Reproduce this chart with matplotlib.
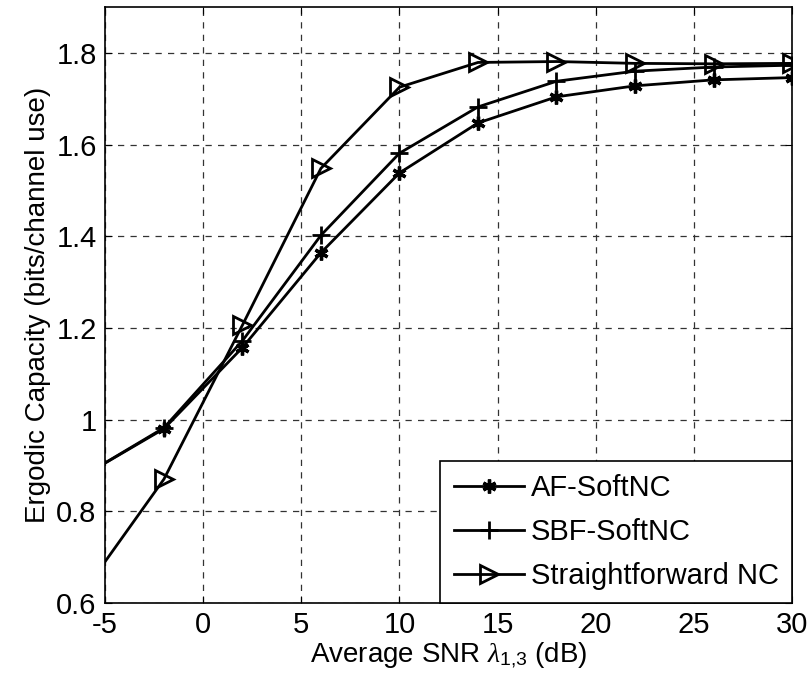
import matplotlib
matplotlib.use("Agg")
import matplotlib.pyplot as plt

plt.rcParams['font.family'] = ['Liberation Sans', 'DejaVu Sans']
plt.rcParams['mathtext.fontset'] = 'custom'
plt.rcParams['mathtext.it'] = 'Liberation Serif:italic'
plt.rcParams['mathtext.rm'] = 'Liberation Sans'
plt.rcParams['axes.unicode_minus'] = False

snr = [-6, -2, 2, 6, 10, 14, 18, 22, 26, 30]
af_softnc = [0.88, 0.98, 1.157, 1.364, 1.538, 1.647, 1.704, 1.728, 1.741, 1.746]
sbf_softnc = [0.88, 0.982, 1.172, 1.402, 1.581, 1.682, 1.738, 1.760, 1.769, 1.773]
straight_nc = [0.63, 0.87, 1.206, 1.548, 1.725, 1.779, 1.781, 1.777, 1.776, 1.777]

xticks = [-5, 0, 5, 10, 15, 20, 25, 30]
yticks = [0.6, 0.8, 1.0, 1.2, 1.4, 1.6, 1.8]
ytick_labels = ['0.6', '0.8', '1', '1.2', '1.4', '1.6', '1.8']

fs = 21
fig = plt.figure(figsize=(8.11, 6.91), dpi=100)
ax = fig.add_axes([0.1295, 0.1274, 0.8471, 0.8625])

lw = 2.0
ax.plot(snr, af_softnc, color='black', lw=lw, marker=(6, 2, 0), ms=10, mew=2.4, label='AF-SoftNC')
ax.plot(snr, sbf_softnc, color='black', lw=lw, marker='+', ms=13, mew=2, label='SBF-SoftNC')
ax.plot(snr, straight_nc, color='black', lw=lw, marker='>', ms=13, mew=2,
        mfc='none', label='Straightforward NC')

ax.set_xlim(-5, 30)
ax.set_ylim(0.6, 1.9)
ax.set_xticks(xticks)
ax.set_yticks(yticks)
ax.set_yticklabels(ytick_labels)
ax.tick_params(direction='in', labelsize=fs, length=5, top=True, right=True, pad=6)
ax.grid(True, color='#333333', linestyle=(0, (5, 5)), linewidth=0.9)
for s in ax.spines.values():
    s.set_linewidth(1.2)

ax.set_xlabel(r'Average SNR $\it{\lambda}_{\rm 1{,}3}$ (dB)', fontsize=20, labelpad=1)
ax.set_ylabel('Ergodic Capacity (bits/channel use)', fontsize=20, labelpad=4)

leg = ax.legend(loc='lower right', fontsize=fs, frameon=True, fancybox=False,
                edgecolor='black', framealpha=1, borderaxespad=0, handlelength=2.4,
                borderpad=0.45, labelspacing=0.55, handletextpad=0.25)
leg.get_frame().set_linewidth(1.2)

fig.savefig('out.png', dpi=100)
